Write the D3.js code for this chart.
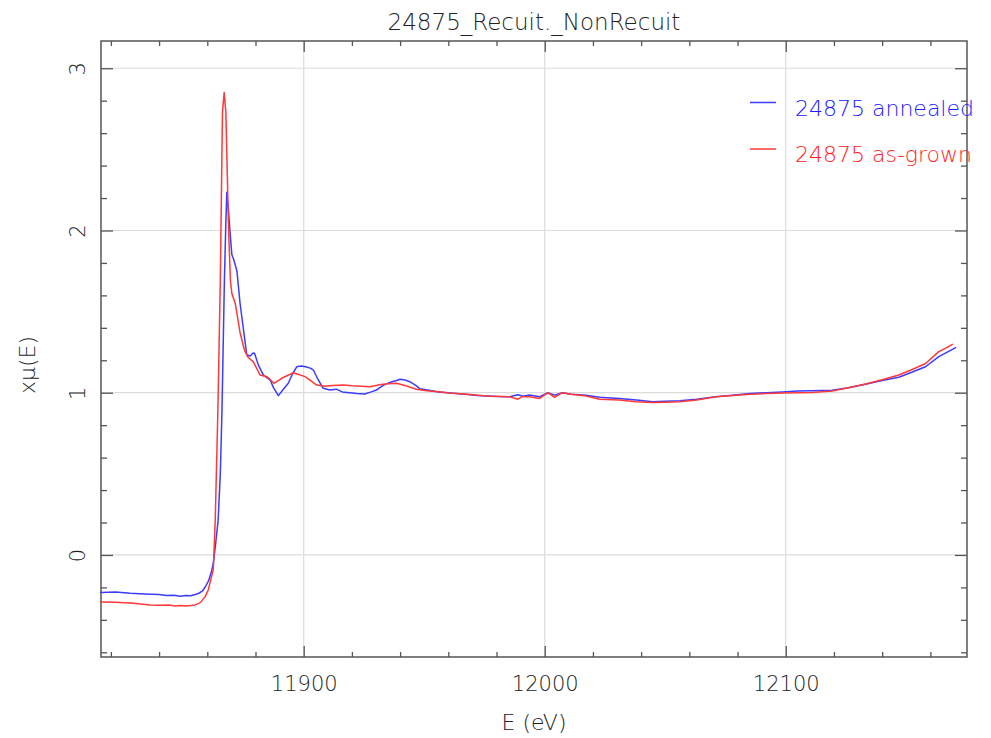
<!DOCTYPE html>
<html>
<head>
<meta charset="utf-8">
<script src="https://cdn.jsdelivr.net/npm/d3@7"></script>
<style>
  body { margin: 0; background: #fff; }
  svg { display: block; }
  text { font-family: "DejaVu Sans", sans-serif; font-weight: 200; fill: #222; }
</style>
</head>
<body>
<svg width="991" height="738"></svg>
<script>
// chart data (energy in eV, normalised absorption)
var chartTitle = "24875_Recuit._NonRecuit";
var seriesNames = ["24875 annealed", "24875 as-grown"];
var seriesColors = ["#3c3cff", "#ff3838"];
var legendTextColors = ["#2020ff", "#ff1c1c"];

var energyAnnealed = [11815.5, 11822, 11828, 11834, 11840, 11843, 11846, 11849, 11851, 11853, 11855, 11856.5,
    11858, 11859.2, 11860.5, 11861.6, 11862.5, 11863.4, 11864.5, 11865.4, 11866.1, 11867.1, 11867.7, 11868.1,
    11868.8, 11869.6, 11870.2, 11871.0, 11872.3, 11873.6, 11875.4, 11876.4, 11877.8, 11879.0, 11879.6, 11881.2,
    11883.3, 11886.1, 11887.5, 11889.5, 11891.5, 11893.6, 11895.5, 11897.1, 11899.0, 11900.8, 11903.0, 11904.0,
    11906.0, 11908.1, 11910.9, 11913.5, 11916, 11919, 11922, 11925.4, 11928, 11930.2, 11933, 11936, 11938.5,
    11940, 11942, 11944, 11946.5, 11948.1, 11952, 11956, 11962, 11967, 11972, 11976, 11980, 11985.4, 11988.9,
    11991, 11993.7, 11996, 11998, 12001.3, 12004.1, 12007.3, 12011, 12017.2, 12022.7, 12031, 12038, 12044.8,
    12050, 12056, 12063, 12071, 12078, 12085, 12092, 12098.6, 12105, 12111, 12119.3, 12126, 12133.1, 12140,
    12146.9, 12152, 12158, 12163.5, 12167, 12170.7];
var muAnnealed = [-0.232, -0.228, -0.236, -0.240, -0.244, -0.250, -0.248, -0.254, -0.250, -0.252, -0.244, -0.236,
    -0.222, -0.196, -0.160, -0.110, -0.050, 0.060, 0.215, 0.500, 0.893, 1.694, 2.05, 2.235,
    2.12, 1.96, 1.85, 1.82, 1.75, 1.55, 1.345, 1.232, 1.226, 1.245, 1.243, 1.17,
    1.109, 1.078, 1.03, 0.982, 1.02, 1.058, 1.12, 1.16, 1.165, 1.16, 1.15, 1.14,
    1.08, 1.027, 1.017, 1.022, 1.005, 1.0, 0.995, 0.992, 1.005, 1.017, 1.045, 1.065, 1.075,
    1.083, 1.078, 1.068, 1.045, 1.025, 1.015, 1.005, 0.996, 0.99, 0.983, 0.98, 0.976, 0.975, 0.988,
    0.978, 0.986, 0.98, 0.975, 1.0, 0.985, 1.0, 0.99, 0.985, 0.972, 0.965, 0.955, 0.945,
    0.947, 0.95, 0.96, 0.975, 0.985, 0.995, 1.0, 1.005, 1.01, 1.012, 1.015, 1.03, 1.052, 1.075,
    1.095, 1.125, 1.16, 1.222, 1.25, 1.28];

var energyAsGrown = [11815.5, 11822, 11829.3, 11836.4, 11841, 11844, 11846.7, 11849, 11851, 11853, 11855, 11857.1,
    11859.1, 11860.4, 11861.6, 11862.5, 11863.3, 11864.4, 11865.4, 11866.3, 11867.0, 11867.7, 11868.8, 11869.6,
    11870.2, 11871.6, 11873.6, 11875.4, 11876.8, 11879.1, 11881.9, 11884.7, 11887.7, 11890.9, 11895.7, 11900.6,
    11905.4, 11908.8, 11912, 11916.4, 11920, 11924, 11927.5, 11932, 11935, 11938.5, 11942, 11946.8, 11951,
    11957, 11962, 11968, 11975.8, 11980, 11985.4, 11988.9, 11990.5, 11993.7, 11997.9, 12001.3, 12004.1,
    12007.3, 12011, 12017.2, 12022.7, 12031, 12038, 12044.8, 12050, 12056, 12063, 12071, 12078, 12085,
    12092, 12098.6, 12105, 12111, 12119.3, 12126, 12133.1, 12140, 12146.9, 12152, 12158, 12163.5, 12167, 12169.3];
var muAsGrown = [-0.29, -0.292, -0.298, -0.308, -0.310, -0.308, -0.314, -0.312, -0.314, -0.312, -0.308, -0.294,
    -0.257, -0.216, -0.144, -0.09, 0.215, 0.893, 1.694, 2.73, 2.85, 2.73, 2.02, 1.69,
    1.61, 1.55, 1.37, 1.263, 1.22, 1.19, 1.109, 1.099, 1.058, 1.089, 1.123, 1.099,
    1.047, 1.04, 1.045, 1.047, 1.043, 1.04, 1.037, 1.05, 1.055, 1.058, 1.045, 1.021, 1.012,
    1.005, 0.996, 0.99, 0.98, 0.978, 0.975, 0.96, 0.975, 0.975, 0.965, 1.0, 0.972,
    1.0, 0.99, 0.98, 0.96, 0.955, 0.945, 0.94, 0.942, 0.945, 0.955, 0.975, 0.983, 0.99,
    0.995, 0.998, 1.0, 1.002, 1.01, 1.03, 1.054, 1.08, 1.109, 1.14, 1.18, 1.253, 1.28, 1.30];

var xMajorTicks = [11900, 12000, 12100];
var xMinorTicks = [11820, 11840, 11860, 11880, 11920, 11940, 11960, 11980, 12020, 12040, 12060, 12080,
    12120, 12140, 12160];
var yMajorTicks = [0, 1, 2, 3];
var yMinorTicks = [-0.6, -0.4, -0.2, 0.2, 0.4, 0.6, 0.8, 1.2, 1.4, 1.6, 1.8, 2.2, 2.4, 2.6, 2.8];

var svg = d3.select("svg");
// plot box (note: "top" is reserved on window, so use plot* names)
var plotLeft = 101, plotRight = 967, plotTop = 41, plotBottom = 657;

var x = d3.scaleLinear().domain([11815.9, 12175.2]).range([plotLeft, plotRight]);
var y = d3.scaleLinear().domain([-0.629, 3.168]).range([plotBottom, plotTop]);

// grid
var grid = svg.append("g").attr("class", "grid");
grid.selectAll(".gx").data(xMajorTicks).enter().append("line")
    .attr("x1", function (d) { return x(d); }).attr("x2", function (d) { return x(d); })
    .attr("y1", plotTop).attr("y2", plotBottom)
    .attr("stroke", "#dcdcdc").attr("stroke-width", 1.2);
grid.selectAll(".gy").data(yMajorTicks).enter().append("line")
    .attr("y1", function (d) { return y(d); }).attr("y2", function (d) { return y(d); })
    .attr("x1", plotLeft).attr("x2", plotRight)
    .attr("stroke", "#dcdcdc").attr("stroke-width", 1.2);

// axes, ticks pointing inward on all four sides
function styleAxis(g) {
    g.select(".domain").remove();
    g.selectAll("line").attr("stroke", "#555").attr("stroke-width", 1.3);
}

svg.append("g").attr("transform", "translate(0," + plotBottom + ")")
    .call(d3.axisBottom(x).tickValues(xMajorTicks).tickSize(-11).tickPadding(19).tickFormat(d3.format("d")))
    .call(styleAxis)
    .selectAll("text").style("font-size", "21px").attr("fill", "#222").style("font-family", "DejaVu Sans");
svg.append("g").attr("transform", "translate(0," + plotBottom + ")")
    .call(d3.axisBottom(x).tickValues(xMinorTicks).tickSize(-5).tickFormat(""))
    .call(styleAxis);
svg.append("g").attr("transform", "translate(0," + plotTop + ")")
    .call(d3.axisTop(x).tickValues(xMajorTicks).tickSize(-11).tickFormat(""))
    .call(styleAxis);
svg.append("g").attr("transform", "translate(0," + plotTop + ")")
    .call(d3.axisTop(x).tickValues(xMinorTicks).tickSize(-5).tickFormat(""))
    .call(styleAxis);

var yAxisG = svg.append("g").attr("transform", "translate(" + plotLeft + ",0)")
    .call(d3.axisLeft(y).tickValues(yMajorTicks).tickSize(-12).tickFormat(d3.format("d")))
    .call(styleAxis);
yAxisG.selectAll("text")
    .attr("x", 0).attr("dy", "0.36em")
    .attr("text-anchor", "middle")
    .attr("transform", "translate(-24,0) rotate(-90)")
    .style("font-size", "21px").attr("fill", "#222").style("font-family", "DejaVu Sans");
svg.append("g").attr("transform", "translate(" + plotLeft + ",0)")
    .call(d3.axisLeft(y).tickValues(yMinorTicks).tickSize(-6).tickFormat(""))
    .call(styleAxis);
svg.append("g").attr("transform", "translate(" + plotRight + ",0)")
    .call(d3.axisRight(y).tickValues(yMajorTicks).tickSize(-12).tickFormat(""))
    .call(styleAxis);
svg.append("g").attr("transform", "translate(" + plotRight + ",0)")
    .call(d3.axisRight(y).tickValues(yMinorTicks).tickSize(-6).tickFormat(""))
    .call(styleAxis);

// frame
svg.append("rect")
    .attr("x", plotLeft).attr("y", plotTop)
    .attr("width", plotRight - plotLeft).attr("height", plotBottom - plotTop)
    .attr("fill", "none").attr("stroke", "#555").attr("stroke-width", 1.5);

// curves
var series = [
    { name: seriesNames[0], color: seriesColors[0], textColor: legendTextColors[0], e: energyAnnealed, mu: muAnnealed },
    { name: seriesNames[1], color: seriesColors[1], textColor: legendTextColors[1], e: energyAsGrown, mu: muAsGrown }
];

var line = d3.line()
    .x(function (d) { return x(d[0]); })
    .y(function (d) { return y(d[1]); });

svg.append("g").attr("class", "curves")
    .selectAll("path")
    .data(series)
    .enter().append("path")
    .attr("d", function (s) { return line(s.e.map(function (v, i) { return [v, s.mu[i]]; })); })
    .attr("fill", "none")
    .attr("stroke", function (s) { return s.color; })
    .attr("stroke-width", 1.5)
    .attr("stroke-linejoin", "round");

// legend
var legend = svg.append("g").attr("class", "legend")
    .selectAll("g")
    .data(series)
    .enter().append("g")
    .attr("transform", function (d, i) { return "translate(750," + (102.5 + i * 46.5) + ")"; });
legend.append("line")
    .attr("x1", 0).attr("x2", 26)
    .attr("stroke", function (d) { return d.color; })
    .attr("stroke-width", 1.5);
legend.append("text")
    .attr("x", 45).attr("y", 13)
    .style("font-size", "22px")
    .style("fill", function (d) { return d.textColor; })
    .text(function (d) { return d.name; });

// title and axis labels
svg.append("text")
    .attr("x", (plotLeft + plotRight) / 2).attr("y", 30)
    .attr("text-anchor", "middle")
    .style("font-size", "23px")
    .text(chartTitle);

svg.append("text")
    .attr("x", (plotLeft + plotRight) / 2).attr("y", 730)
    .attr("text-anchor", "middle")
    .style("font-size", "22px")
    .text("E (eV)");

svg.append("text")
    .attr("transform", "translate(27,365) rotate(-90)")
    .attr("text-anchor", "middle")
    .attr("dy", "0.36em")
    .style("font-size", "22px")
    .text("x\u03bc(E)");
</script>
</body>
</html>
